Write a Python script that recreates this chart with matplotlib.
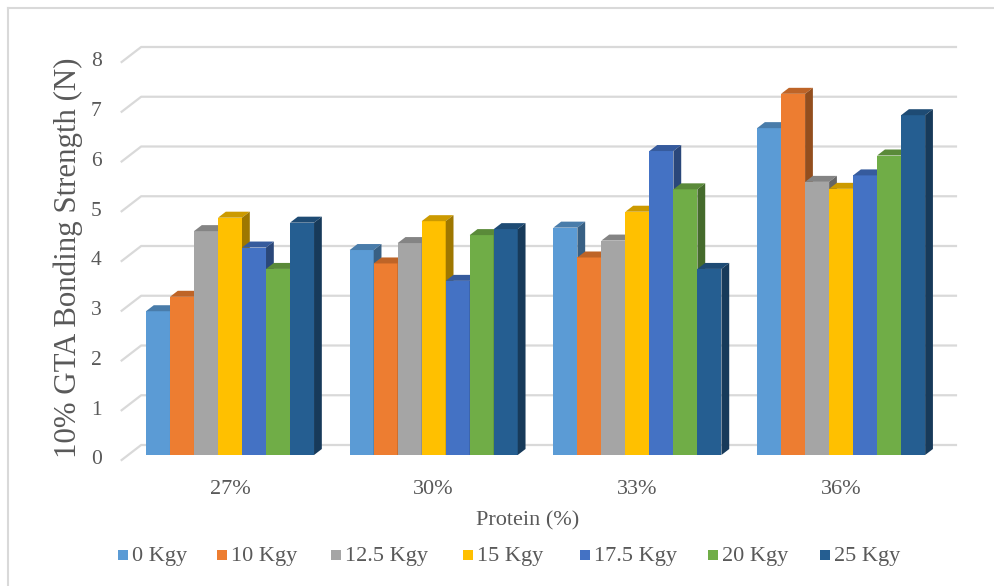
import matplotlib
matplotlib.use("Agg")
import matplotlib.pyplot as plt
from matplotlib.patches import Polygon, Rectangle
from matplotlib.transforms import offset_copy, IdentityTransform
from matplotlib.colors import to_rgb

# ---- data ----
categories = ["27%", "30%", "33%", "36%"]
series_names = ["0 Kgy", "10 Kgy", "12.5 Kgy", "15 Kgy", "17.5 Kgy", "20 Kgy", "25 Kgy"]
kgy_0 = [2.89, 4.12, 4.57, 6.57]
kgy_10 = [3.18, 3.85, 3.97, 7.26]
kgy_12_5 = [4.50, 4.26, 4.31, 5.49]
kgy_15 = [4.77, 4.70, 4.89, 5.35]
kgy_17_5 = [4.17, 3.50, 6.11, 5.62]
kgy_20 = [3.74, 4.42, 5.34, 6.02]
kgy_25 = [4.67, 4.54, 3.74, 6.83]
series_values = [kgy_0, kgy_10, kgy_12_5, kgy_15, kgy_17_5, kgy_20, kgy_25]
y_ticks = [0, 1, 2, 3, 4, 5, 6, 7, 8]

colors = ["#5B9BD5", "#ED7D31", "#A5A5A5", "#FFC000", "#4472C4", "#70AD47", "#255E91"]
TEXT = "#595959"
GRID = "#D9D9D9"
FONT = "Liberation Serif"

W, H = 995, 586
fig = plt.figure(figsize=(W / 100, H / 100), dpi=100)
ax = fig.add_axes([0, 0, 1, 1])
ax.axis("off")

# front-of-floor plane: category i centred at pixel X0 + i*GROUP, value v at pixel row FLOOR - v*UNIT
GROUP, X0 = 203.7, 223.5
UNIT, FLOOR_FROM_BOTTOM = 49.75, 126
ax.set_xlim(-X0 / GROUP, (W - X0) / GROUP)
ax.set_ylim(-FLOOR_FROM_BOTTOM / UNIT, (H - FLOOR_FROM_BOTTOM) / UNIT)
ax.autoscale(False)

SLANT = 1.3          # horizontal shift per pixel of depth
WALL_DEPTH = 15
BAR_FRONT, BAR_BACK = 5, 11


def depth_shift(d):
    return offset_copy(ax.transData, fig=fig, x=SLANT * d, y=d, units="dots")


def to_px(x, y, d):
    px, py = ax.transData.transform((x, y))
    return (px + SLANT * d, py + d)


def shade(c, f):
    r, g, b = to_rgb(c)
    return (r * f, g * f, b * f)


# back wall gridlines with the left-wall diagonals
x_left, x_right = -0.5, len(categories) - 0.5
for v in y_ticks:
    pts = [to_px(x_left, v, 0), to_px(x_left, v, WALL_DEPTH), to_px(x_right, v, WALL_DEPTH)]
    ax.add_line(plt.Line2D([p[0] for p in pts], [p[1] for p in pts], color=GRID,
                           lw=1.6, transform=IdentityTransform(), zorder=1))

# 3D clustered columns
n = len(series_names)
bw = 0.825 / n
front_tr = depth_shift(BAR_FRONT)
for gi in range(len(categories)):
    for si in range(n):
        v = series_values[si][gi]
        xc = gi + (si - (n - 1) / 2) * bw
        xl, xr = xc - bw / 2, xc + bw / 2
        z = 10 + si * 3
        ax.bar([xc], [v], width=bw, color=colors[si], transform=front_tr,
               zorder=z, linewidth=0)
        top = [to_px(xl, v, BAR_FRONT), to_px(xr, v, BAR_FRONT),
               to_px(xr, v, BAR_BACK), to_px(xl, v, BAR_BACK)]
        ax.add_patch(Polygon(top, closed=True, facecolor=shade(colors[si], 0.8),
                             edgecolor="none", transform=IdentityTransform(), zorder=z + 1))
        side = [to_px(xr, 0, BAR_FRONT), to_px(xr, v, BAR_FRONT),
                to_px(xr, v, BAR_BACK), to_px(xr, 0, BAR_BACK)]
        ax.add_patch(Polygon(side, closed=True, facecolor=shade(colors[si], 0.62),
                             edgecolor="none", transform=IdentityTransform(), zorder=z + 2))

# value axis labels
tick_tr = offset_copy(ax.transData, fig=fig, x=-20, y=0, units="dots")
for v in y_ticks:
    ax.text(x_left, v, str(v), transform=tick_tr, ha="right", va="center",
            fontsize=15.5, family=FONT, color=TEXT)

# category labels
cat_tr = offset_copy(ax.transData, fig=fig, x=6.5, y=-30, units="dots")
for gi, c in enumerate(categories):
    ax.text(gi, 0, c, transform=cat_tr, ha="center", va="center",
            fontsize=16, family=FONT, color=TEXT)

# axis titles
fig.text(528 / W, 1 - 521 / H, "Protein (%)", ha="center", va="center",
         fontsize=16, family=FONT, color=TEXT)
fig.text(68 / W, 1 - 258 / H, "10% GTA Bonding Strength (N)", ha="center", va="center",
         rotation=90, fontsize=22.2, family=FONT, color=TEXT)

# legend
legend_x = [118, 217, 331, 463, 580, 708, 820]
legend_y = 1 - 555 / H
for si, name in enumerate(series_names):
    fig.patches.append(Rectangle((legend_x[si] / W, legend_y - 5 / H), 10 / W, 10 / H,
                                 facecolor=colors[si], edgecolor="none",
                                 transform=fig.transFigure, figure=fig))
    fig.text((legend_x[si] + 14) / W, legend_y - 1 / H, name, ha="left", va="center",
             fontsize=16, family=FONT, color=TEXT)

# chart frame (top and left edges)
fig.add_artist(plt.Line2D([8 / W, 8 / W], [0, 1 - 8 / H], color="#D9D9D9", lw=1.5,
                          transform=fig.transFigure))
fig.add_artist(plt.Line2D([8 / W, 1], [1 - 8 / H, 1 - 8 / H], color="#D9D9D9", lw=1.5,
                          transform=fig.transFigure))

fig.savefig("out.png", dpi=100, facecolor="white")
